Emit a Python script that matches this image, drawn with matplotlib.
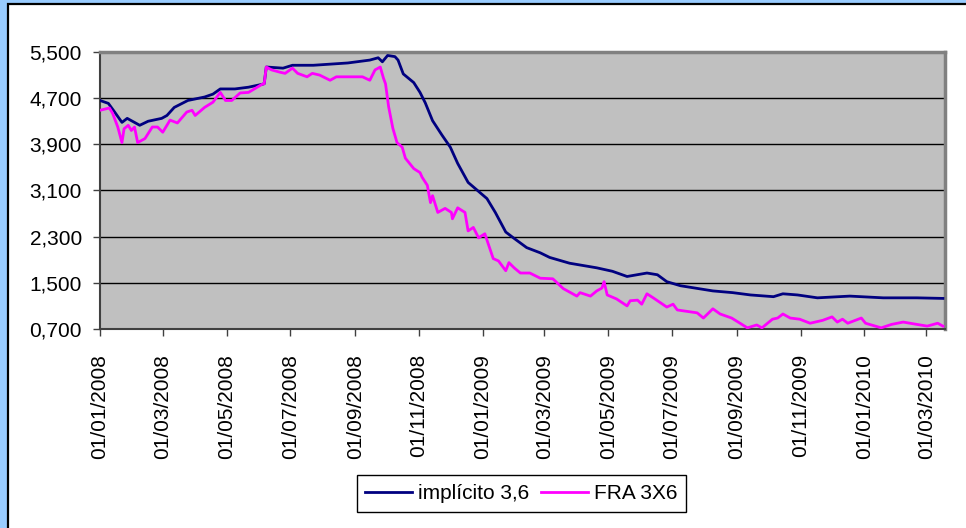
import matplotlib
matplotlib.use("Agg")
import matplotlib.pyplot as plt
import matplotlib.dates as mdates
from matplotlib.patches import Rectangle
import numpy as np
import pandas as pd

# ---- data ----
impl_dates = ["2008-01-01", "2008-01-09", "2008-01-15", "2008-01-22", "2008-01-27", "2008-02-01",
              "2008-02-08", "2008-02-16", "2008-02-29", "2008-03-05", "2008-03-12", "2008-03-25",
              "2008-04-10", "2008-04-18", "2008-04-25", "2008-05-09", "2008-05-22", "2008-06-04",
              "2008-06-06", "2008-06-08", "2008-06-24", "2008-07-03", "2008-07-23", "2008-08-25",
              "2008-09-15", "2008-09-23", "2008-09-27", "2008-10-02", "2008-10-09", "2008-10-12",
              "2008-10-17", "2008-10-27", "2008-11-02", "2008-11-07", "2008-11-14", "2008-11-23",
              "2008-12-01", "2008-12-08", "2008-12-18", "2008-12-27", "2009-01-05", "2009-01-13",
              "2009-01-23", "2009-01-31", "2009-02-12", "2009-02-25", "2009-03-06", "2009-03-25",
              "2009-04-20", "2009-05-05", "2009-05-19", "2009-06-07", "2009-06-17", "2009-06-26",
              "2009-07-09", "2009-08-09", "2009-08-28", "2009-09-14", "2009-10-06", "2009-10-15",
              "2009-10-29", "2009-11-17", "2009-12-18", "2010-01-19", "2010-02-20", "2010-03-17"]
impl_values = [4.66, 4.61, 4.46, 4.28, 4.35, 4.30,
               4.23, 4.30, 4.35, 4.40, 4.54, 4.66,
               4.72, 4.77, 4.86, 4.86, 4.89, 4.94,
               4.95, 5.24, 5.22, 5.27, 5.27, 5.31,
               5.36, 5.40, 5.33, 5.44, 5.42, 5.36,
               5.12, 4.97, 4.80, 4.62, 4.31, 4.06,
               3.85, 3.57, 3.24, 3.10, 2.96, 2.72,
               2.38, 2.27, 2.11, 2.02, 1.94, 1.84,
               1.76, 1.70, 1.61, 1.67, 1.64, 1.52,
               1.45, 1.36, 1.33, 1.29, 1.26, 1.31,
               1.29, 1.24, 1.27, 1.24, 1.24, 1.23]

fra_dates = ["2008-01-01", "2008-01-10", "2008-01-13", "2008-01-18", "2008-01-22", "2008-01-24",
             "2008-01-28", "2008-01-31", "2008-02-03", "2008-02-06", "2008-02-13", "2008-02-20",
             "2008-02-25", "2008-03-01", "2008-03-08", "2008-03-15", "2008-03-24", "2008-03-29",
             "2008-04-01", "2008-04-10", "2008-04-18", "2008-04-25", "2008-04-30", "2008-05-06",
             "2008-05-14", "2008-05-22", "2008-06-04", "2008-06-06", "2008-06-08", "2008-06-13",
             "2008-06-21", "2008-06-26", "2008-07-03", "2008-07-08", "2008-07-17", "2008-07-22",
             "2008-07-29", "2008-08-08", "2008-08-14", "2008-09-08", "2008-09-15", "2008-09-20",
             "2008-09-25", "2008-09-28", "2008-09-30", "2008-10-03", "2008-10-07", "2008-10-11",
             "2008-10-16", "2008-10-19", "2008-10-27", "2008-11-02", "2008-11-04", "2008-11-09",
             "2008-11-12", "2008-11-14", "2008-11-19", "2008-11-26", "2008-12-02", "2008-12-03",
             "2008-12-08", "2008-12-15", "2008-12-18", "2008-12-23", "2008-12-28", "2009-01-03",
             "2009-01-11", "2009-01-16", "2009-01-23", "2009-01-26", "2009-01-31", "2009-02-06",
             "2009-02-15", "2009-02-25", "2009-03-09", "2009-03-19", "2009-04-01", "2009-04-04",
             "2009-04-14", "2009-04-20", "2009-04-25", "2009-04-27", "2009-04-30", "2009-05-09",
             "2009-05-19", "2009-05-22", "2009-05-29", "2009-06-02", "2009-06-07", "2009-06-13",
             "2009-06-26", "2009-07-02", "2009-07-06", "2009-07-25", "2009-07-31", "2009-08-09",
             "2009-08-16", "2009-08-27", "2009-09-04", "2009-09-11", "2009-09-20", "2009-09-25",
             "2009-10-05", "2009-10-10", "2009-10-15", "2009-10-22", "2009-10-31", "2009-11-10",
             "2009-11-22", "2009-12-01", "2009-12-06", "2009-12-11", "2009-12-16", "2009-12-29",
             "2010-01-02", "2010-01-17", "2010-01-27", "2010-02-07", "2010-02-20", "2010-03-02",
             "2010-03-12", "2010-03-17"]
fra_values = [4.49, 4.53, 4.44, 4.20, 3.93, 4.17,
              4.23, 4.14, 4.20, 3.93, 4.00, 4.20,
              4.20, 4.11, 4.32, 4.27, 4.46, 4.49,
              4.40, 4.54, 4.63, 4.80, 4.66, 4.66,
              4.79, 4.80, 4.94, 4.95, 5.24, 5.19,
              5.15, 5.13, 5.22, 5.13, 5.07, 5.13,
              5.10, 5.01, 5.07, 5.07, 5.01, 5.19,
              5.24, 5.05, 4.95, 4.55, 4.18, 3.93,
              3.85, 3.66, 3.48, 3.41, 3.33, 3.19,
              2.89, 3.01, 2.72, 2.79, 2.72, 2.61,
              2.80, 2.72, 2.40, 2.46, 2.28, 2.35,
              1.92, 1.88, 1.71, 1.85, 1.76, 1.67,
              1.67, 1.58, 1.57, 1.40, 1.27, 1.33,
              1.27, 1.36, 1.41, 1.52, 1.29, 1.22,
              1.10, 1.19, 1.20, 1.13, 1.31, 1.24,
              1.08, 1.13, 1.03, 0.98, 0.89, 1.05,
              0.96, 0.89, 0.80, 0.72, 0.77, 0.72,
              0.87, 0.89, 0.96, 0.89, 0.87, 0.80,
              0.85, 0.91, 0.82, 0.87, 0.80, 0.89,
              0.80, 0.72, 0.78, 0.82, 0.78, 0.75,
              0.80, 0.75]

series_labels = ["implícito 3,6", "FRA 3X6"]
y_ticks = [0.7, 1.5, 2.3, 3.1, 3.9, 4.7, 5.5]
x_tick_dates = pd.date_range("2008-01-01", "2010-03-01", freq="2MS")

# ---- figure ----
W, H = 966, 528
fig = plt.figure(figsize=(W / 100, H / 100), dpi=100)
fig.patch.set_facecolor("#99CCFF")
fig.patches.append(Rectangle((8 / W, -0.02), 1.05, (H - 4) / H + 0.02, transform=fig.transFigure,
                             facecolor="white", edgecolor="black", linewidth=1.6, zorder=-10))

ax = fig.add_axes([100 / W, 1 - 329 / H, (945 - 100) / W, (329 - 52) / H])
ax.set_facecolor("#C0C0C0")

ax.plot(pd.to_datetime(impl_dates), impl_values, color="#000080", lw=2.0, label=series_labels[0],
        solid_joinstyle="round", zorder=3)
ax.plot(pd.to_datetime(fra_dates), fra_values, color="#FF00FF", lw=2.0, label=series_labels[1],
        solid_joinstyle="round", zorder=3)

ax.set_ylim(0.7, 5.5)
ax.set_yticks(y_ticks)
ax.set_yticklabels([f"{v:.3f}".replace(".", ",") for v in y_ticks])
ax.set_xlim(pd.Timestamp("2008-01-01"), pd.Timestamp("2010-03-19"))
ax.set_xticks(x_tick_dates)
ax.set_xticklabels([d.strftime("%d/%m/%Y") for d in x_tick_dates], rotation=90)

ax.grid(axis="y", color="black", lw=1.0)
ax.set_axisbelow(True)

for side in ["top", "right"]:
    ax.spines[side].set_color("#808080")
    ax.spines[side].set_linewidth(2.5)
for side in ["left", "bottom"]:
    ax.spines[side].set_color("#404040")
    ax.spines[side].set_linewidth(1.5)

ax.tick_params(axis="both", direction="out", length=5, width=1, color="#404040",
               labelsize=15, labelcolor="black")
ax.tick_params(axis="y", pad=8)
ax.tick_params(axis="x", pad=13)
for lbl in ax.get_xticklabels() + ax.get_yticklabels():
    lbl.set_fontfamily("Liberation Sans")

leg = fig.legend(loc="center", bbox_to_anchor=(521.5 / W, 1 - 493.5 / H), ncol=2, frameon=True,
                 fancybox=False, edgecolor="black", framealpha=1, handlelength=2.25,
                 columnspacing=0.55, handletextpad=0.3, borderpad=0.42, borderaxespad=0,
                 prop={"family": "Liberation Sans", "size": 15})
leg.get_frame().set_linewidth(1.0)

fig.savefig("out.png", dpi=100, facecolor=fig.get_facecolor())
